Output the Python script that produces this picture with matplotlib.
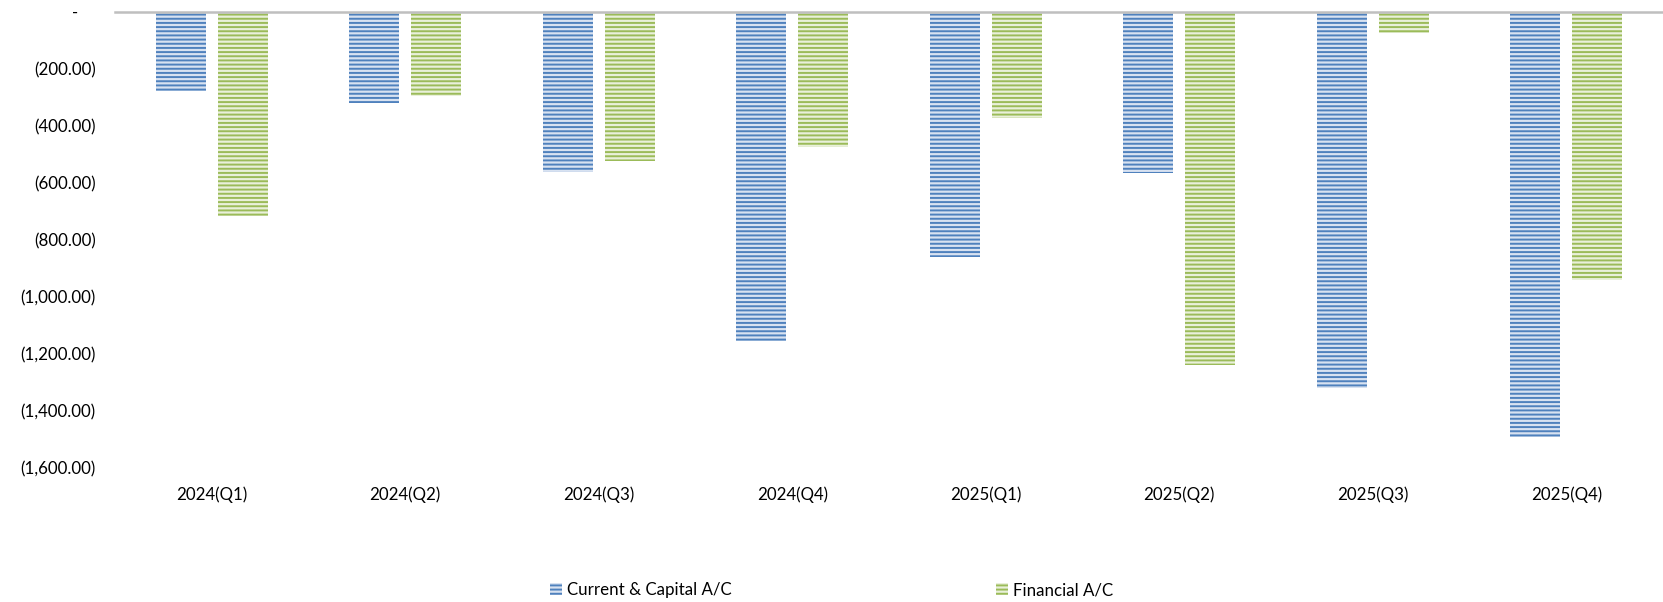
import matplotlib
matplotlib.use('Agg')
import matplotlib.pyplot as plt
import numpy as np

# datos
quarters = ['2024(Q1)', '2024(Q2)', '2024(Q3)', '2024(Q4)',
            '2025(Q1)', '2025(Q2)', '2025(Q3)', '2025(Q4)']
current_capital = [-277, -321, -560, -1155, -859, -566, -1321, -1491]
financial = [-715, -294, -522, -473, -371, -1240, -74, -942]

plt.rcParams['font.family'] = ['Lato', 'DejaVu Sans']
plt.rcParams['hatch.linewidth'] = 1.4

fig = plt.figure(figsize=(16.63, 6.02), dpi=100)
ax = fig.add_axes([115/1663, 1 - 468/602, 1 - 115/1663, (468 - 12)/602])

x = np.arange(len(quarters))
w = 0.26
ax.bar(x - 0.16, current_capital, w, facecolor='#D8E2F1', edgecolor='#4F81BD',
       hatch='----', linewidth=0, label='Current & Capital A/C')
ax.bar(x + 0.16, financial, w, facecolor='#E9F0DA', edgecolor='#9BBB59',
       hatch='----', linewidth=0, label='Financial A/C')

ax.set_xlim(-0.5, len(quarters) - 0.5)
ax.set_ylim(-1600, 0)
ax.set_yticks(np.arange(-1600, 1, 200))

def fmt(v):
    if v == 0:
        return '-    '
    return '({:,.2f})'.format(abs(v))

ax.set_yticklabels([fmt(v) for v in np.arange(-1600, 1, 200)])
ax.set_xticks(x)
ax.set_xticklabels(quarters)
ax.tick_params(axis='both', length=0, labelsize=12.2, colors='black')
ax.tick_params(axis='y', pad=14)
ax.tick_params(axis='x', pad=13)

for s in ['left', 'right', 'bottom']:
    ax.spines[s].set_visible(False)
ax.spines['top'].set_color('#BFBFBF')
ax.spines['top'].set_linewidth(1.8)
ax.grid(False)

fig.legend(loc='center left', bbox_to_anchor=(550/1663, 1 - 590/602), ncol=2,
           frameon=False, fontsize=12.2, handlelength=0.7, handleheight=0.7,
           handletextpad=0.3, columnspacing=15.6, borderaxespad=0, borderpad=0)

fig.savefig('out.png', dpi=100)
